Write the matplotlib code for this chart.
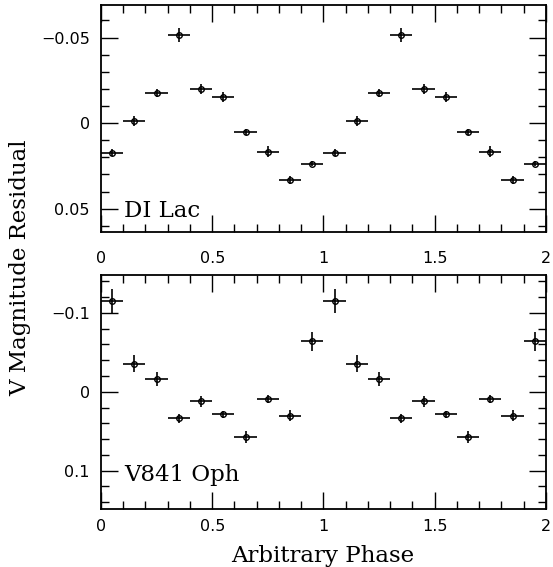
import matplotlib.pyplot as plt
from matplotlib.ticker import MultipleLocator, FuncFormatter
import numpy as np

# phase bins (one cycle, repeated to cover 0-2)
phase = np.array([0.05, 0.15, 0.25, 0.35, 0.45, 0.55, 0.65, 0.75, 0.85, 0.95])
phase_err = 0.05

# DI Lac
dilac_res = np.array([0.0174, -0.0013, -0.0175, -0.0516, -0.0199, -0.0150, 0.0053, 0.0166, 0.0332, 0.0238])
dilac_err = np.array([0.0020, 0.0027, 0.0024, 0.0042, 0.0031, 0.0029, 0.0019, 0.0033, 0.0021, 0.0015])

# V841 Oph
v841_res = np.array([-0.1148, -0.0355, -0.0157, 0.0337, 0.0118, 0.0287, 0.0570, 0.0097, 0.0304, -0.0641])
v841_err = np.array([0.0150, 0.0110, 0.0090, 0.0055, 0.0070, 0.0045, 0.0078, 0.0050, 0.0070, 0.0120])

plt.rcParams['font.family'] = ['DejaVu Serif']

fig = plt.figure(figsize=(5.53, 5.67), dpi=100)
ax1 = fig.add_axes([0.1826, 0.5908, 0.8047, 0.4004])
ax2 = fig.add_axes([0.1826, 0.1018, 0.8047, 0.4132])


def fmt(v, pos):
    s = '%g' % round(v, 4)
    if s == '-0':
        s = '0'
    return s.replace('-', '\u2212')


def panel(ax, res, err, name, ylim, major, minor, label_y, xpad):
    x = np.concatenate([phase, phase + 1])
    y = np.concatenate([res, res])
    e = np.concatenate([err, err])
    ax.errorbar(x, y, xerr=phase_err, yerr=e, fmt='o', color='black',
                mfc='none', mec='black', ms=4, mew=1.0, elinewidth=1.2, capsize=0)
    ax.set_xlim(0, 2)
    ax.set_ylim(ylim)
    ax.xaxis.set_major_locator(MultipleLocator(0.5))
    ax.xaxis.set_minor_locator(MultipleLocator(0.1))
    ax.yaxis.set_major_locator(MultipleLocator(major))
    ax.yaxis.set_minor_locator(MultipleLocator(minor))
    ax.xaxis.set_major_formatter(FuncFormatter(fmt))
    ax.yaxis.set_major_formatter(FuncFormatter(fmt))
    ax.tick_params(which='both', direction='in', top=True, right=True, width=1.0)
    ax.tick_params(which='major', length=12)
    ax.tick_params(which='minor', length=6)
    ax.tick_params(axis='x', pad=xpad)
    ax.tick_params(axis='y', pad=8)
    for lab in ax.get_xticklabels() + ax.get_yticklabels():
        lab.set_family('DejaVu Sans')
        lab.set_fontsize(11.5)
    for sp in ax.spines.values():
        sp.set_linewidth(1.3)
    ax.text(0.052, label_y, name, transform=ax.transAxes, fontsize=16.5,
            va='baseline', ha='left')


panel(ax1, dilac_res, dilac_err, 'DI Lac', (0.0636, -0.069), 0.05, 0.01, 0.067, 14)
panel(ax2, v841_res, v841_err, 'V841 Oph', (0.149, -0.148), 0.1, 0.02, 0.121, 7)

fig.text(0.584, 1 - 561.7 / 567, 'Arbitrary Phase', fontsize=16.5,
         ha='center', va='baseline')
fig.text(0.036, 1 - 268 / 567, 'V Magnitude Residual', rotation=90, fontsize=16.5,
         ha='center', va='center')

fig.savefig('out.png', dpi=100)
